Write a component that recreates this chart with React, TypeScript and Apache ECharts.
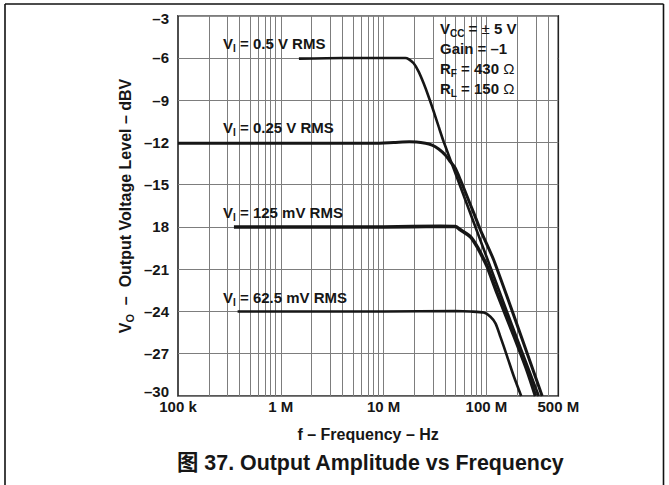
import React, { useEffect, useRef } from "react";
import * as echarts from "echarts";

const FONT = "'Liberation Sans', Arial, Helvetica, 'Noto Sans CJK SC', sans-serif";
const INK = "#161616";
const GRID = "#7d7d7d";

// Frequencies in MHz, output level in dBV
const vi05Freq = [1.5, 4, 10, 16.3, 17.5, 19.6, 21.9, 24.5, 27.4, 30.7, 34.3, 38.4, 56.2, 100, 177.8, 322.8];
const vi05Db = [-6.05, -6.0, -6.0, -6.0, -6.08, -6.38, -6.97, -7.8, -8.75, -9.8, -10.88, -11.95, -15.2, -20.1, -25.0, -30];

const vi025Freq = [0.1, 1, 8, 12.5, 17.8, 25.5, 29.6, 34.3, 40, 44.6, 50, 55.8, 64.9, 75.2, 87.3, 120, 348.3];
const vi025Db = [-12.05, -12.05, -12.05, -12.0, -11.95, -12.05, -12.18, -12.46, -12.9, -13.37, -13.84, -14.65, -15.84, -17.0, -18.2, -20.5, -30];

const vi125Freq = [0.35, 1, 10, 35.5, 50, 55.8, 69.8, 81.1, 94.2, 101.6, 127, 184.5, 248.9, 300];
const vi125Db = [-18.0, -18.0, -18.0, -17.95, -17.97, -18.2, -18.7, -19.4, -20.3, -20.8, -22.7, -25.7, -28.2, -30];

const vi625Freq = [0.38, 1, 10, 50, 70, 94.2, 109.4, 122.5, 136.8, 159.2, 184.5, 217.8];
const vi625Db = [-24.0, -24.0, -24.0, -23.97, -24.0, -24.08, -24.37, -24.84, -25.8, -27.2, -28.6, -30];

const xTickFreq = [0.1, 1, 10, 100, 500];
const xTickLabels = ["100 k", "1 M", "10 M", "100 M", "500 M"];
const gridFreq = [
  0.2, 0.3, 0.4, 0.5, 0.6, 0.7, 0.8, 0.9, 1,
  2, 3, 4, 5, 6, 7, 8, 9, 10,
  20, 30, 40, 50, 60, 70, 80, 90, 100,
  200, 300, 400,
];
const yTickValues = [-30, -27, -24, -21, -18, -15, -12, -9, -6, -3];
const yTickLabels = ["–30", "–27", "–24", "–21", "18", "–15", "–12", "–9", "–6", "–3"];

const lg = (mhz: number) => Math.log10(mhz * 1e6);
const pairs = (f: number[], d: number[]) => f.map((v, i) => [lg(v), d[i]]);

const main = { fontSize: 15, fontWeight: "bold", fontFamily: FONT, fill: INK, lineHeight: 20 } as any;
const sub = { fontSize: 10, fontWeight: "bold", fontFamily: FONT, fill: INK, lineHeight: 10, verticalAlign: "bottom" } as any;
const omega = { fontSize: 15, fontFamily: FONT, fill: INK, lineHeight: 20 } as any;

export default function App() {
  const ref = useRef<HTMLDivElement>(null);
  useEffect(() => {
    if (!ref.current) return;
    const chart = echarts.init(ref.current, undefined, { renderer: "svg" });
    const curve = (name: string, f: number[], d: number[], w: number) => ({
      name,
      type: "line",
      data: pairs(f, d),
      symbol: "none",
      smooth: 0.25,
      z: 10,
      silent: true,
      lineStyle: { color: INK, width: w },
    });
    const labelBox = (y: number, h: number) => ({
      type: "rect",
      z: 5,
      silent: true,
      shape: { x: 210, y, width: 149, height: h },
      style: { fill: "#fff" },
    });
    const viLabel = (y: number, t: string) => ({
      type: "text",
      z: 6,
      x: 223,
      y,
      silent: true,
      style: { text: `{m|V}{s|I}{m| = ${t}}`, rich: { m: main, s: sub } },
    });
    const yLabStyle = { fontSize: 15, fontWeight: "bold", fontFamily: FONT, color: INK };
    chart.setOption({
      animation: false,
      backgroundColor: "#fff",
      title: {
        text: "图 37. Output Amplitude vs Frequency",
        left: 177,
        top: 452,
        padding: 0,
        textStyle: { fontSize: 21.4, fontWeight: "bold", fontFamily: FONT, color: INK },
      },
      grid: {
        left: 178,
        right: 110.7,
        top: 15.7,
        bottom: 89,
        show: true,
        borderColor: "#222",
        borderWidth: 1.6,
        backgroundColor: "transparent",
        outerBoundsMode: "none",
      },
      xAxis: {
        type: "value",
        min: lg(0.1),
        max: lg(500),
        axisLine: { show: false },
        axisTick: { show: false },
        splitLine: { show: false },
        axisLabel: {
          customValues: xTickFreq.map(lg),
          formatter: (v: number) => {
            const i = xTickFreq.findIndex((f) => Math.abs(lg(f) - v) < 1e-6);
            return i >= 0 ? xTickLabels[i] : "";
          },
          fontSize: 15,
          fontWeight: "bold",
          fontFamily: FONT,
          color: INK,
          margin: 3,
          hideOverlap: false,
        },
        name: "f – Frequency – Hz",
        nameLocation: "middle",
        nameGap: 30,
        nameTextStyle: { fontSize: 16, fontWeight: "bold", fontFamily: FONT, color: INK },
      },
      yAxis: {
        type: "value",
        min: -30,
        max: -3,
        interval: 3,
        axisLine: { show: false },
        axisTick: { show: false },
        splitLine: { show: true, lineStyle: { color: GRID, width: 1 } },
        axisLabel: {
          formatter: (v: number) => {
            const i = yTickValues.indexOf(v);
            if (i < 0) return "";
            if (i === 0) return `{lo|${yTickLabels[i]}}`;
            if (i === yTickValues.length - 1) return `{hi|${yTickLabels[i]}}`;
            return yTickLabels[i];
          },
          ...yLabStyle,
          rich: {
            lo: { ...yLabStyle, padding: [0, 0, 9, 0] },
            hi: { ...yLabStyle, padding: [6, 0, 0, 0] },
          },
          margin: 9,
          showMinLabel: true,
          showMaxLabel: true,
        },
      },
      series: [
        {
          name: "grid",
          type: "line",
          data: [],
          z: 1,
          silent: true,
          markLine: {
            silent: true,
            symbol: ["none", "none"],
            label: { show: false },
            emphasis: { disabled: true },
            lineStyle: { color: GRID, width: 1, type: "solid" },
            data: gridFreq.map((f) => ({ xAxis: lg(f) })),
          },
        },
        curve("VI = 0.5 V RMS", vi05Freq, vi05Db, 2.6),
        curve("VI = 0.25 V RMS", vi025Freq, vi025Db, 3),
        curve("VI = 125 mV RMS", vi125Freq, vi125Db, 3.6),
        curve("VI = 62.5 mV RMS", vi625Freq, vi625Db, 2.6),
      ],
      graphic: [
        { type: "line", z: 1, silent: true, shape: { x1: 5, y1: 4, x2: 663.5, y2: 4 }, style: { stroke: "#111", lineWidth: 1.6 } },
        { type: "line", z: 1, silent: true, shape: { x1: 5, y1: 4, x2: 5, y2: 485 }, style: { stroke: "#111", lineWidth: 1.6 } },
        { type: "line", z: 1, silent: true, shape: { x1: 663.5, y1: 4, x2: 663.5, y2: 485 }, style: { stroke: "#111", lineWidth: 1.6 } },
        labelBox(31.5, 26),
        labelBox(115.5, 27),
        labelBox(200.5, 26),
        labelBox(285.5, 25.5),
        viLabel(33.8, "0.5 V RMS"),
        viLabel(117.8, "0.25 V RMS"),
        viLabel(202.8, "125 mV RMS"),
        viLabel(287.8, "62.5 mV RMS"),
        {
          type: "rect",
          z: 5,
          silent: true,
          shape: { x: 434, y: 17, width: 123, height: 82.5 },
          style: { fill: "#fff" },
        },
        {
          type: "text",
          z: 6,
          x: 440,
          y: 18,
          silent: true,
          style: {
            text: [
              "{m|V}{s|CC}{m| = }{o|±}{m| 5 V}",
              "{m|Gain = –1}",
              "{m|R}{s|F}{m| = 430 }{o|Ω}",
              "{m|R}{s|L}{m| = 150 }{o|Ω}",
            ].join("\n"),
            rich: { m: main, s: sub, o: omega },
          },
        },
        {
          type: "text",
          z: 6,
          x: 125,
          y: 206,
          rotation: Math.PI / 2,
          silent: true,
          style: {
            text: "{m|V}{s|O}{m|  –  Output Voltage Level – dBV}",
            align: "center",
            verticalAlign: "middle",
            rich: {
              m: { ...main, fontSize: 16 },
              s: { ...sub, fontSize: 11 },
            },
          },
        },
      ],
    });
    return () => chart.dispose();
  }, []);
  return <div ref={ref} style={{ position: "fixed", left: 0, top: 0, width: 669, height: 485 }} />;
}
